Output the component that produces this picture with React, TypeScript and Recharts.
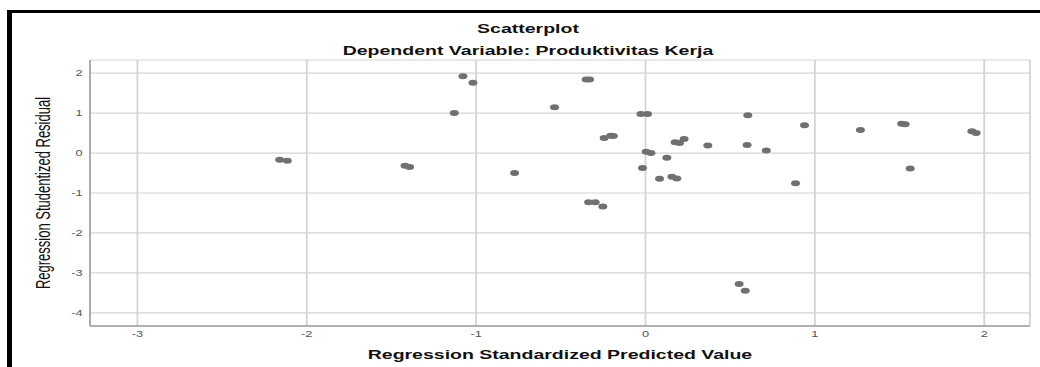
import React from "react";
import {
  ScatterChart,
  Scatter,
  XAxis,
  YAxis,
  CartesianGrid,
} from "recharts";

// the source image is stretched horizontally, so the whole chart is drawn narrow and scaled
const STRETCH = 1.5;
const FONT = '"Liberation Sans", Arial, sans-serif';

const predictedValue = [
  -2.16, -2.115, -1.42, -1.393, -1.078, -1.019, -1.129, -0.773, -0.537, -0.35,
  -0.33, -0.244, -0.205, -0.19, -0.336, -0.297, -0.252, -0.027, 0.012, 0.004,
  0.032, -0.018, 0.126, 0.083, 0.156, 0.185, 0.604, 0.939, 0.175, 0.201,
  0.228, 0.368, 0.6, 0.713, 0.886, 1.269, 1.513, 1.533, 1.927, 1.952,
  1.563, 0.553, 0.589,
];

const studentizedResidual = [
  -0.17, -0.19, -0.32, -0.35, 1.925, 1.76, 1.005, -0.5, 1.146, 1.84,
  1.84, 0.377, 0.435, 0.43, -1.23, -1.23, -1.34, 0.98, 0.98, 0.033,
  0.0, -0.377, -0.12, -0.646, -0.596, -0.64, 0.945, 0.694, 0.27, 0.25,
  0.35, 0.19, 0.2, 0.066, -0.754, 0.578, 0.736, 0.72, 0.543, 0.5,
  -0.387, -3.28, -3.45,
];

const xTicks = [-3, -2, -1, 0, 1, 2];
const yTicks = [-4, -3, -2, -1, 0, 1, 2];
const xDomain = [-3.28, 2.27];
const yDomain = [-4.33, 2.33];

const points = predictedValue.map((x, i) => ({ x, y: studentizedResidual[i] }));

const Dot = (props: any) => {
  const { cx, cy } = props;
  if (cx == null || cy == null) return null;
  return <circle cx={cx} cy={cy} r={3} fill="#707070" />;
};

const App: React.FC = () => {
  const innerWidth = 1040 / STRETCH;

  return (
    <div
      style={{
        position: "absolute",
        left: 0,
        top: 0,
        width: 1040,
        height: 367,
        overflow: "hidden",
        background: "#fff",
      }}
    >
      <div
        style={{
          position: "absolute",
          left: 0,
          top: 0,
          width: innerWidth,
          height: 367,
          transform: `scaleX(${STRETCH})`,
          transformOrigin: "0 0",
        }}
      >
        <div
          style={{
            position: "absolute",
            left: 0,
            top: 21,
            width: 704,
            textAlign: "center",
            fontFamily: FONT,
            fontWeight: "bold",
            fontSize: 13,
            lineHeight: "15px",
            color: "#111",
          }}
        >
          Scatterplot
        </div>
        <div
          style={{
            position: "absolute",
            left: 0,
            top: 43,
            width: 704,
            textAlign: "center",
            fontFamily: FONT,
            fontWeight: "bold",
            fontSize: 13,
            lineHeight: "15px",
            color: "#111",
          }}
        >
          Dependent Variable: Produktivitas Kerja
        </div>

        <ScatterChart
          width={innerWidth}
          height={367}
          margin={{ top: 60, right: 6.7, bottom: 0, left: 0 }}
        >
          <CartesianGrid stroke="#d4d4d4" strokeWidth={1.2} />
          <XAxis
            type="number"
            dataKey="x"
            domain={xDomain}
            ticks={xTicks}
            allowDataOverflow
            height={41}
            axisLine={{ stroke: "#9c9c9c", strokeWidth: 1.3 }}
            tickLine={false}
            tickSize={3}
            tickMargin={2}
            tick={{ fontSize: 8.5, fill: "#555", fontFamily: FONT }}
            label={{
              value: "Regression Standardized Predicted Value",
              position: "insideBottom",
              offset: 8,
              style: {
                fontFamily: FONT,
                fontWeight: "bold",
                fontSize: 13,
                fill: "#111",
              },
            }}
          />
          <YAxis
            type="number"
            dataKey="y"
            domain={yDomain}
            ticks={yTicks}
            allowDataOverflow
            width={60}
            axisLine={{ stroke: "#a8a8a8", strokeWidth: 1.2 }}
            tickLine={false}
            tickSize={3}
            tickMargin={2}
            tick={{ fontSize: 8.5, fill: "#555", fontFamily: FONT }}
            label={{
              value: "Regression Studentized Residual",
              angle: -90,
              position: "insideLeft",
              offset: 29,
              style: {
                fontFamily: FONT,
                fontSize: 13,
                fill: "#111",
                textAnchor: "middle",
              },
            }}
          />
          <Scatter data={points} shape={<Dot />} isAnimationActive={false} />
        </ScatterChart>
      </div>

      <div
        style={{
          position: "absolute",
          left: 7,
          top: 10,
          width: 1100,
          height: 400,
          borderTop: "3px solid #000",
          borderLeft: "5px solid #000",
          pointerEvents: "none",
        }}
      />
    </div>
  );
};

export default App;
